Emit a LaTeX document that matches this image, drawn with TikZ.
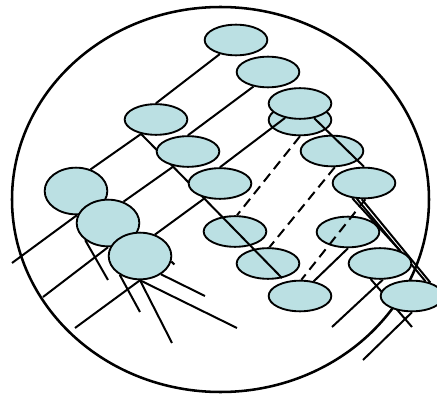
\documentclass[tikz,border=0pt]{standalone}
\usetikzlibrary{shapes.geometric}
\pgfdeclarelayer{bottom}
\pgfdeclarelayer{lines}
\pgfsetlayers{bottom,lines,main}
\definecolor{cellfill}{HTML}{BBE0E3}

\begin{document}
\begin{tikzpicture}[x=0.75pt,y=-0.75pt,
    cell/.style={ellipse,draw,fill=cellfill,line width=1.4pt,inner sep=0pt,
      minimum width=47pt,minimum height=23pt},
    blob/.style={cell,minimum height=35pt},
    edge/.style={line width=1.5pt},
    dashedge/.style={edge,dash pattern=on 7.5pt off 4.5pt}]
    \useasboundingbox (0,0) rectangle (437,396);

    % outer rim and the cells that lines run across
    \begin{pgfonlayer}{bottom}
    \draw[line width=1.9pt] (220.5,199.5) ellipse (208.5 and 192.5);
    \node[cell] (a3b) at (300,120) {};
    \node[cell] (d1) at (235,231.5) {};
    \node[cell] (d2) at (268,263.5) {};
    \node[cell] (e1) at (332,151) {};
    \node[cell] (f1) at (348,232) {};
    \end{pgfonlayer}

    \node[cell] (a1) at (236,40) {};
    \node[cell] (a2) at (268,72) {};
    \node[cell] (a3) at (300,103.5) {};
    \node[cell] (b1) at (156,119.5) {};
    \node[cell] (b2) at (188,151.5) {};
    \node[cell] (b3) at (220,183.5) {};
    \node[blob] (c1) at (76,191) {};
    \node[blob] (c2) at (108,223) {};
    \node[blob] (c3) at (140,256) {};
    \node[cell] (d3) at (300,296) {};
    \node[cell] (e2) at (364,183) {};
    \node[cell] (f2) at (380,263.5) {};
    \node[cell] (g) at (412,296) {};

    % loose ends
    \coordinate (t1) at (12,263);
    \coordinate (t2) at (43,297);
    \coordinate (t3) at (75,328);
    \coordinate (t4) at (108,280);
    \coordinate (t5) at (140,312);
    \coordinate (t6) at (172,343);
    \coordinate (t7) at (237,328);
    \coordinate (t8) at (205,296);
    \coordinate (t9) at (412,327);
    \coordinate (t10) at (332,327);
    \coordinate (t11) at (363,360);

    \begin{pgfonlayer}{lines}
    \draw[edge] (c1.56) -- (b1.224);
    \draw[edge] (b1.north) -- (a1.221);
    \draw[edge] (c2.54) -- (b2.226);
    \draw[edge] (b2.north) -- (a2.225);
    \draw[edge] (c3.55) -- (b3.224);
    \draw[edge] (b3.north) -- (a3.224);
    \draw[edge] (t1) -- (c1.272);
    \draw[edge] (t2) -- (c2.south);
    \draw[edge] (t3) -- (c3.south);
    \draw[edge] (c2.217) -- (t4);
    \draw[edge] (c3.223) -- (t5);
    \draw[edge] (c3.south) -- (t6);
    \draw[edge] (c3.south) -- (t7);
    \draw[edge] (c3.319) -- (t8);
    \draw[edge] (c3.350) -- ++(3,3);
    \draw[edge] (b1.224) -- (d2.314);
    \draw[edge] (a3.314) -- (e2.north);
    \draw[edge] (e2.232) -- (f2.32);
    \draw[edge] (e2.246) -- (g.48);
    \draw[edge] (e2.262) -- (g.36);
    \draw[edge] (f2.239) -- (t9);
    \draw[edge] (f2.280) -- (t10);
    \draw[edge] (g.south) -- (t11);
    \draw[edge] (f1.south) -- (d3.47);
    \draw[dashedge] (a3b.south) -- (d1.83);
    \draw[dashedge] (e1.280) -- (d2.85);
    \draw[dashedge] (e2.275) -- (d3.85);
    \end{pgfonlayer}
\end{tikzpicture}
\end{document}
